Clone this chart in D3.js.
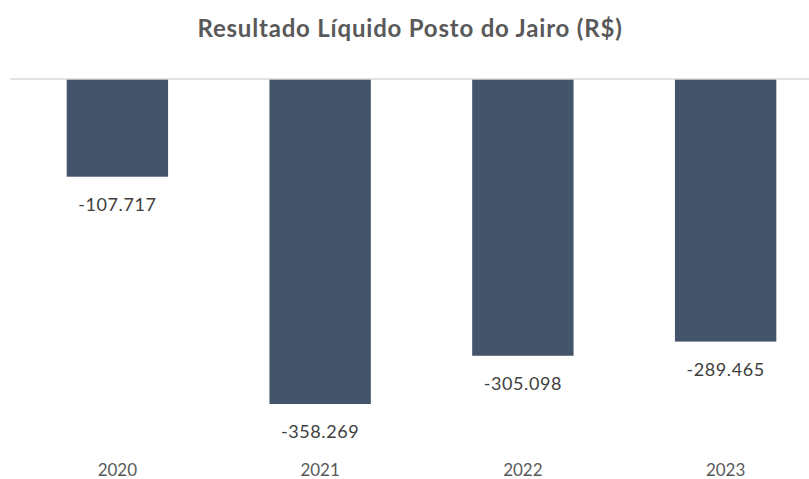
<!DOCTYPE html>
<html>
<head>
<meta charset="utf-8">
<script src="https://cdn.jsdelivr.net/npm/d3@7"></script>
<style>
  body { margin: 0; background: #fff; }
  svg { display: block; font-family: Lato, "Open Sans", sans-serif; }
</style>
</head>
<body>
<svg width="809" height="479"></svg>
<script>
// data
var years = ["2020", "2021", "2022", "2023"];
var resultado = [-107717, -358269, -305098, -289465];

var svg = d3.select("svg"),
    width = +svg.attr("width"),
    height = +svg.attr("height");

var fmt = function(v) {
  return d3.format(",")(v).replace(/,/g, ".").replace("−", "-");
};

var x = d3.scaleBand()
    .domain(years)
    .range([16, 827])
    .paddingInner(0.5)
    .paddingOuter(0.25);

var y = d3.scaleLinear()
    .domain([0, -358269])
    .range([79, 404]);

// title
svg.append("text")
    .attr("x", 410)
    .attr("y", 37)
    .attr("text-anchor", "middle")
    .attr("font-size", 24)
    .attr("font-weight", "bold")
    .attr("letter-spacing", 0.8)
    .attr("fill", "#595959")
    .text("Resultado Líquido Posto do Jairo (R$)");

// bars
svg.append("g")
  .selectAll("rect")
  .data(resultado)
  .enter().append("rect")
    .attr("x", function(d, i) { return x(years[i]); })
    .attr("y", y(0))
    .attr("width", x.bandwidth())
    .attr("height", function(d) { return y(d) - y(0); })
    .attr("fill", "#44546a");

// zero line
svg.append("line")
    .attr("x1", 10)
    .attr("x2", width)
    .attr("y1", y(0))
    .attr("y2", y(0))
    .attr("stroke", "#d9d9d9")
    .attr("stroke-width", 1.5);

// data labels
svg.append("g")
  .selectAll("text")
  .data(resultado)
  .enter().append("text")
    .attr("x", function(d, i) { return x(years[i]) + x.bandwidth() / 2; })
    .attr("y", function(d) { return y(d) + 34; })
    .attr("text-anchor", "middle")
    .attr("font-size", 18)
    .attr("letter-spacing", 0.6)
    .attr("fill", "#404040")
    .text(fmt);

// category axis labels
svg.append("g")
  .selectAll("text")
  .data(years)
  .enter().append("text")
    .attr("x", function(d) { return x(d) + x.bandwidth() / 2; })
    .attr("y", 476)
    .attr("text-anchor", "middle")
    .attr("font-size", 17)
    .attr("fill", "#595959")
    .text(function(d) { return d; });
</script>
</body>
</html>
